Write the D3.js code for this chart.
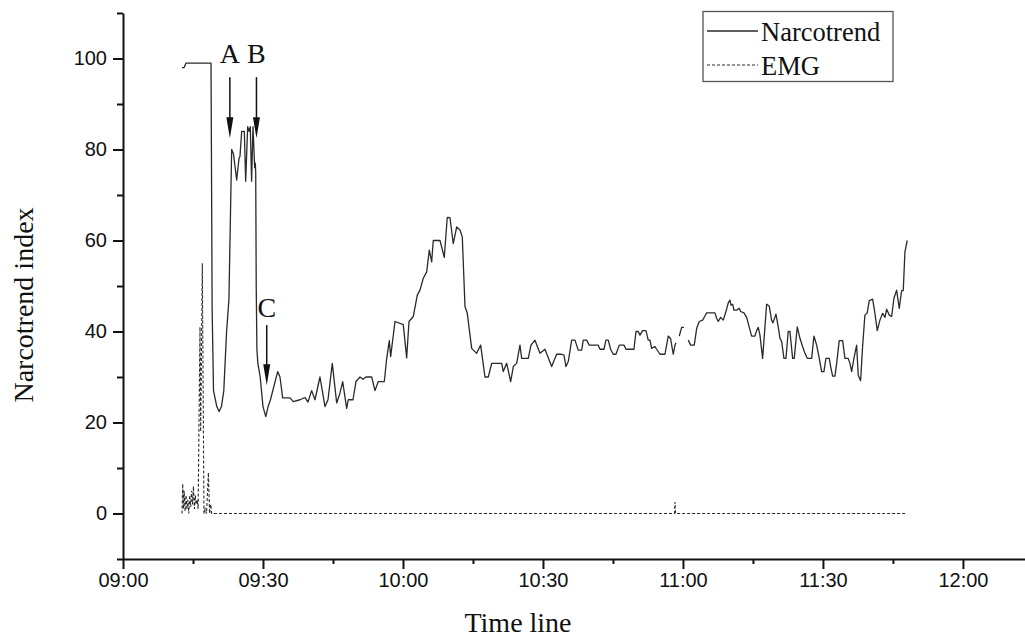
<!DOCTYPE html>
<html>
<head>
<meta charset="utf-8">
<script src="https://cdn.jsdelivr.net/npm/d3@7"></script>
<style>
  html, body { margin: 0; padding: 0; background: #fff; }
  svg { display: block; }
</style>
</head>
<body>
<svg id="chart" width="1025" height="637"></svg>
<script>
// ---------------- DATA ----------------
// time in minutes after 09:00
const narcoTime = [
  12.64, 13.1, 13.5, 18.86, 18.95, 19.1, 19.4, 20.1, 20.6, 21.1, 21.6, 22.2, 22.7, 23.0,
  23.29, 23.68, 24.36, 24.86, 25.07, 25.44, 26.0, 26.29, 26.72, 27.0, 27.28, 27.56, 27.86, 28.22, 28.35, 28.44,
  28.55, 28.7, 28.9, 29.4, 30.0, 30.6, 31.1, 31.6,
  33.15, 33.64, 34.22, 35.79, 36.49, 37.93, 39.0, 39.64, 40.43, 41.14, 42.21, 43.29, 43.93, 44.85, 45.79, 46.5,
  47.08, 47.93, 48.28, 49.29, 49.93, 50.79, 51.43, 52.07, 53.29, 54.0, 54.71, 56.0, 56.5, 57.07, 57.36, 58.29,
  60.06, 60.79, 61.29, 62.21, 63.07, 63.64, 64.35, 65.08, 65.64, 66.15, 66.49, 67.93, 68.85, 69.49, 70.07, 70.78,
  71.51, 72.21, 72.71, 73.29, 73.78, 74.72, 75.79, 76.14, 76.65, 77.57, 78.28, 79.01, 81.15, 81.49, 82.22, 83.08,
  83.64, 84.36, 85.07, 85.44, 86.85, 87.43, 88.28, 89.36, 90.43, 91.86, 92.93, 94.0, 94.5, 94.93, 95.42, 96.15,
  96.86, 97.56, 98.29, 98.64, 99.36, 99.92, 101.85, 102.21, 103.07, 103.5, 103.99, 104.5, 105.06, 105.64, 106.35,
  107.36, 107.79, 109.5, 109.93, 110.42, 110.79, 111.36, 112.07, 112.56, 112.93, 113.29, 114.0, 114.36, 115.07,
  116.14, 116.85, 117.36, 117.92, 118.29, 118.5, 118.8, 119.21, 119.72, 120.21, 120.6, 121.14, 121.65, 122.42,
  122.94, 123.49, 124.22, 124.71, 125.08, 126.86, 127.22, 127.56, 128.08, 128.64, 129.21, 129.71, 130.07, 130.29,
  130.65, 130.93, 131.51, 132.06, 132.36, 133.07, 133.65, 134.21, 134.72, 135.43, 135.79, 136.14, 136.5, 137.07,
  137.93, 138.49, 139.0, 139.28, 139.93, 140.42, 140.79, 141.15, 141.64, 142.07, 142.56, 142.93, 143.5, 143.85,
  144.49, 145.07, 145.64, 146.14, 146.64, 147.58, 148.07, 148.65, 149.21, 149.72, 150.21, 150.64, 151.35, 151.65,
  152.08, 152.57, 152.94, 153.49, 154.22, 154.71, 155.42, 155.79, 156.15, 156.64, 157.22, 157.56, 158.07, 158.5,
  158.99, 159.49, 159.92, 160.65, 161.14, 161.64, 162.21, 162.79, 163.29, 163.65, 164.21, 164.72, 165.21, 165.79,
  166.35, 166.86, 167.21, 167.57, 168.06
];
const narcoValue = [
  98, 98, 99, 99, 80, 45, 27, 23.5, 22.4, 23.5, 27, 40, 47, 64,
  80, 79, 73.3, 78, 78.5, 84, 84, 73, 85, 84, 85, 73, 85, 76, 77, 75,
  50, 36, 33, 30, 23.5, 21.3, 23.5, 25,
  31.2, 30, 25.4, 25.4, 24.6, 25, 25.5, 24.5, 27, 25, 30, 23.5, 25, 33, 24.3, 26.5,
  29, 23.1, 25, 25, 29, 30, 29.5, 30, 30, 27, 29, 29, 34, 38, 34.5, 42.2,
  41.5, 34.2, 42.2, 43.3, 48, 49.1, 51.7, 53.1, 57.9, 55.3, 60, 60, 56.3, 65.1, 65, 59.3,
  63, 62.3, 60.8, 45.5, 44, 36.3, 35.2, 36, 37, 30, 30, 33, 33, 31.2, 33, 29,
  32.3, 33, 37, 34.1, 34.1, 37, 38.1, 35.2, 36.1, 32.3, 35, 35, 34.8, 32.3, 33.4, 38.1,
  38.1, 35.9, 35.9, 38.1, 38.1, 37, 37, 36.1, 36.1, 38.1, 38.1, 36.1, 35, 35, 37,
  37, 36.1, 36.1, 40, 40, 39.2, 40.2, 40.2, 38.1, 38.1, 36.3, 36.7, 36.1, 35,
  35, 39, 38.4, 35, 37, 37.5, null, 39, 40.9, 40.9, null, 38.1, 37, 37,
  40.7, 42.2, 42.5, 43.4, 44.1, 44.1, 42.9, 42.2, 43.1, 42.5, 44.4, 46.3, 46.9, 45.8,
  46, 44.7, 44.7, 45.1, 44.4, 44.1, 43.1, 40.9, 39, 39, 40.2, 40.9, 39.2, 34.1,
  46, 45.6, 42.5, 41.9, 43.8, 41, 38.5, 37.8, 34.1, 34.1, 40, 40, 34.1, 34.1,
  41, 38.5, 36.7, 35.2, 34.1, 34.1, 39, 37, 34.1, 31.2, 31.2, 34.1, 34.1, 32.3,
  30.2, 30.2, 33, 38, 38, 34.1, 34.1, 33, 31.2, 34.1, 37, 30.4, 29.2, 36.7,
  43.6, 44.1, 46.8, 47.1, 44, 40.2, 42.5, 44, 43.1, 44.9, 43.6, 43.3, 47.3, 49.1,
  45.1, 49, 49, 57.5, 60
];

const emgTime = [
  12.64, 12.8, 12.95, 13.1, 13.3, 13.5, 13.7, 13.9, 14.1, 14.3, 14.5, 14.7, 14.9, 15.1, 15.3, 15.5, 15.7, 15.9,
  16.1, 16.5, 16.65, 17.0, 17.35, 17.6, 17.9, 18.3, 18.55, 18.8, 19.0,
  118.2, 118.3, 118.4, 168.06
];
const emgValue = [
  0, 6.5, 1, 5, 0.5, 4, 1, 3, 0, 4, 1.5, 5, 2, 6, 1, 4, 2, 3,
  1, 41, 18, 55, 0, 1, 0, 9, 0, 2, 0,
  0, 2.5, 0, 0
];

const xTickLabels = ["09:00", "09:30", "10:00", "10:30", "11:00", "11:30", "12:00"];
const yTickValues = [0, 20, 40, 60, 80, 100];
const yMinorTicks = [-10, 10, 30, 50, 70, 90, 110];

// annotations: label, time (min after 09:00), label baseline value, arrow start value, arrow tip value
const annotLabels = ["A", "B", "C"];
const annotTime = [22.9, 28.6, 30.8];
const annotLabelValue = [99, 99, 43.2];
const annotArrowFrom = [95.9, 95.9, 41.4];
const annotArrowTo = [82.5, 82.5, 28.2];

const seriesNames = ["Narcotrend", "EMG"];

// ---------------- CHART ----------------
const BASE = new Date(2000, 0, 1, 9, 0, 0).getTime();
const T = m => new Date(BASE + m * 60000);
const parseHM = s => { const [h, mm] = s.split(":").map(Number); return (h - 9) * 60 + mm; };

const svg = d3.select("#chart");
const x = d3.scaleTime().domain([T(0), T(193.3)]).range([123, 1025]);
const y = d3.scaleLinear().domain([-10, 110]).range([559, 13]);

const serif = "'Liberation Serif', 'Times New Roman', Times, serif";
const sans = "'Liberation Sans', Arial, Helvetica, sans-serif";

// Narcotrend line
const narco = narcoTime.map((t, i) => ({ t, v: narcoValue[i] }));
const line = d3.line().defined(d => d.v !== null).x(d => x(T(d.t))).y(d => y(d.v));
svg.append("path").datum(narco).attr("d", line)
  .attr("fill", "none").attr("stroke", "#2a2a2a").attr("stroke-width", 1.3)
  .attr("stroke-linejoin", "round");

// EMG dashed
const emg = emgTime.map((t, i) => ({ t, v: emgValue[i] }));
svg.append("path").datum(emg).attr("d", line)
  .attr("fill", "none").attr("stroke", "#2a2a2a").attr("stroke-width", 1.1)
  .attr("stroke-dasharray", "3,2");

// Axes
const xMajor = xTickLabels.map(s => T(parseHM(s)));
const xMinor = d3.range(15, 193, 30).map(T);
const xAxis = d3.axisBottom(x).tickValues(xMajor).tickFormat(d3.timeFormat("%H:%M"))
  .tickSize(10).tickSizeOuter(0).tickPadding(4);
svg.append("g").attr("transform", `translate(0,${y(-10)})`).call(xAxis);
svg.append("g").attr("transform", `translate(0,${y(-10)})`)
  .call(d3.axisBottom(x).tickValues(xMinor).tickFormat("").tickSize(5).tickSizeOuter(0))
  .call(g => g.select(".domain").remove());

const yAxis = d3.axisLeft(y).tickValues(yTickValues).tickSize(10).tickSizeOuter(0).tickPadding(6);
svg.append("g").attr("transform", `translate(${x(T(0))},0)`).call(yAxis);
svg.append("g").attr("transform", `translate(${x(T(0))},0)`)
  .call(d3.axisLeft(y).tickValues(yMinorTicks).tickFormat("").tickSize(6).tickSizeOuter(0))
  .call(g => g.select(".domain").remove());

svg.selectAll(".domain").attr("stroke", "#111").attr("stroke-width", 2);
svg.selectAll(".tick line").attr("stroke", "#111").attr("stroke-width", 2);
svg.selectAll(".tick text").attr("font-family", sans).attr("font-size", 20).attr("fill", "#111");

// Axis titles
svg.append("text").attr("x", 518).attr("y", 632).attr("text-anchor", "middle")
  .attr("font-family", serif).attr("font-size", 28).attr("fill", "#111").text("Time line");
svg.append("text").attr("transform", "translate(33,305) rotate(-90)").attr("text-anchor", "middle")
  .attr("font-family", serif).attr("font-size", 28).attr("fill", "#111").text("Narcotrend index");

// Annotations
annotLabels.forEach((lab, i) => {
  const ax = x(T(annotTime[i]));
  svg.append("text").attr("x", ax).attr("y", y(annotLabelValue[i])).attr("text-anchor", "middle")
    .attr("font-family", serif).attr("font-size", 28).attr("fill", "#111").text(lab);
  const y0 = y(annotArrowFrom[i]), y1 = y(annotArrowTo[i]);
  svg.append("line").attr("x1", ax).attr("x2", ax).attr("y1", y0).attr("y2", y1 - 15)
    .attr("stroke", "#111").attr("stroke-width", 1.5);
  svg.append("path").attr("d", `M${ax - 3.5},${y1 - 21} L${ax + 3.5},${y1 - 21} L${ax},${y1} Z`)
    .attr("fill", "#111");
});

// Legend
const lg = svg.append("g");
lg.append("rect").attr("x", 703).attr("y", 11.5).attr("width", 190).attr("height", 70)
  .attr("fill", "#fff").attr("stroke", "#555").attr("stroke-width", 1.3);
const legY = [31, 65];
seriesNames.forEach((name, i) => {
  lg.append("line").attr("x1", 707).attr("x2", 758).attr("y1", legY[i]).attr("y2", legY[i])
    .attr("stroke", "#2a2a2a").attr("stroke-width", i === 0 ? 1.3 : 1.1)
    .attr("stroke-dasharray", i === 0 ? null : "3,2");
  lg.append("text").attr("x", 761).attr("y", legY[i] + 9.5)
    .attr("font-family", serif).attr("font-size", 26.5).attr("fill", "#111").text(name);
});
</script>
</body>
</html>
